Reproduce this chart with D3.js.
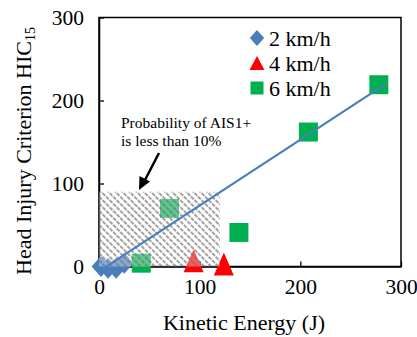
<!DOCTYPE html>
<html>
<head>
<meta charset="utf-8">
<script src="https://cdn.jsdelivr.net/npm/d3@7"></script>
<style>
  body { margin: 0; background: #fff; }
  svg text { font-family: "Liberation Serif", "Times New Roman", serif; fill: #000; }
</style>
</head>
<body>
<svg id="chart" width="417" height="337"></svg>
<script>
// series values (kinetic energy J, HIC15)
const energy2 = [2, 9, 17, 25];
const hic2 = [0, -2, -2, 4];
const energy4 = [94, 124];
const hic4 = [7, 3];
const energy6 = [42, 70, 139, 208, 278];
const hic6 = [4, 70, 41, 162, 219];
const seriesNames = ["2 km/h", "4 km/h", "6 km/h"];
const trendEnergy = [6, 286];
const trendHic = [-1, 221];
const zoneEnergy = [0, 120];
const zoneHic = [0, 90];
const xTicks = [0, 100, 200, 300];
const yTicks = [0, 100, 200, 300];

const blue = "#4a7ebb", red = "#ff0000", green = "#00b050";
const serif = "'Liberation Serif','Times New Roman',serif";

const svg = d3.select("#chart");
const x = d3.scaleLinear().domain([0, 300]).range([99, 401]);
const y = d3.scaleLinear().domain([0, 300]).range([266.5, 17.5]);

// hatch pattern (downward diagonal)
const defs = svg.append("defs");
const pat = defs.append("pattern")
    .attr("id", "hatch")
    .attr("patternUnits", "userSpaceOnUse")
    .attr("width", 5).attr("height", 5)
    .attr("patternTransform", "rotate(-45)");
pat.append("line")
    .attr("x1", 1).attr("y1", 0).attr("x2", 1).attr("y2", 5)
    .attr("stroke", "#707070")
    .attr("stroke-width", 1.3)
    .attr("stroke-dasharray", "3,1");

// plot frame
svg.append("rect")
    .attr("x", x(0)).attr("y", y(300))
    .attr("width", x(300) - x(0)).attr("height", y(0) - y(300))
    .attr("fill", "none").attr("stroke", "#000").attr("stroke-width", 1.5);

// axes with inward ticks
const gx = svg.append("g").attr("transform", "translate(0," + y(0) + ")")
    .call(d3.axisBottom(x).tickValues(xTicks).tickSizeInner(-5).tickSizeOuter(0).tickPadding(12));
const gy = svg.append("g").attr("transform", "translate(" + x(0) + ",0)")
    .call(d3.axisLeft(y).tickValues(yTicks).tickSizeInner(-5).tickSizeOuter(0).tickPadding(15));
[gx, gy].forEach(g => {
    g.attr("font-family", null).attr("font-size", null);
    g.select(".domain").attr("stroke", "#000").attr("stroke-width", 1.5);
    g.selectAll(".tick line").attr("stroke", "#000").attr("stroke-width", 1.3);
    g.selectAll(".tick text").style("font-family", serif)
        .style("font-size", "21.5px").attr("fill", "#000");
});

// markers
function diamond(s) { return "M0," + (-s) + " L" + (s * 0.9) + ",0 L0," + s + " L" + (-s * 0.9) + ",0Z"; }
function triangle(w, h) { return "M0," + (-h / 2) + " L" + (w / 2) + "," + (h / 2) + " L" + (-w / 2) + "," + (h / 2) + "Z"; }
function square(s) { return "M" + (-s / 2) + "," + (-s / 2) + "h" + s + "v" + s + "h" + (-s) + "Z"; }

svg.append("g").selectAll("path").data(d3.zip(energy2, hic2)).join("path")
    .attr("transform", d => "translate(" + x(d[0]) + "," + y(d[1]) + ")")
    .attr("d", diamond(10.5)).attr("fill", blue);
svg.append("g").selectAll("path").data(d3.zip(energy4, hic4)).join("path")
    .attr("transform", d => "translate(" + x(d[0]) + "," + y(d[1]) + ")")
    .attr("d", triangle(20, 23)).attr("fill", red);
svg.append("g").selectAll("path").data(d3.zip(energy6, hic6)).join("path")
    .attr("transform", d => "translate(" + x(d[0]) + "," + y(d[1]) + ")")
    .attr("d", square(19)).attr("fill", green);

// hatched zone
const zone = svg.append("g");
["#fff", "url(#hatch)"].forEach((f, i) => {
    zone.append("rect")
        .attr("x", x(zoneEnergy[0])).attr("y", y(zoneHic[1]))
        .attr("width", x(zoneEnergy[1]) - x(zoneEnergy[0]))
        .attr("height", y(zoneHic[0]) - y(zoneHic[1]))
        .attr("fill", f).attr("fill-opacity", i === 0 ? 0.35 : 1);
});

// trend line
svg.append("path")
    .datum(d3.zip(trendEnergy, trendHic))
    .attr("d", d3.line().x(d => x(d[0])).y(d => y(d[1])))
    .attr("stroke", blue).attr("stroke-width", 2.2).attr("fill", "none");

// annotation
svg.append("text").attr("x", 121).attr("y", 128).style("font-size", "15.5px").text("Probability of AIS1+");
svg.append("text").attr("x", 121).attr("y", 146).style("font-size", "15.5px").text("is less than 10%");
svg.append("line").attr("x1", 159).attr("y1", 153).attr("x2", 145).attr("y2", 180)
    .attr("stroke", "#000").attr("stroke-width", 2.5);
svg.append("path").attr("d", "M139,190 L139.5,176 L150,181.5Z").attr("fill", "#000");

// legend
const legend = svg.append("g");
const legY = [38, 63, 88];
const legShapes = [diamond(8), triangle(15, 14), square(13)];
const legColors = [blue, red, green];
seriesNames.forEach((name, i) => {
    legend.append("path").attr("transform", "translate(257," + legY[i] + ")")
        .attr("d", legShapes[i]).attr("fill", legColors[i]);
    legend.append("text").attr("x", 269).attr("y", legY[i] + 8)
        .style("font-size", "22px").text(name);
});

// axis titles
svg.append("text").attr("x", 244).attr("y", 330).attr("text-anchor", "middle")
    .style("font-size", "22px").text("Kinetic Energy (J)");
const yt = svg.append("text").attr("transform", "translate(31,151) rotate(-90)")
    .attr("text-anchor", "middle").style("font-size", "22px");
yt.append("tspan").text("Head Injury Criterion  HIC");
yt.append("tspan").attr("dy", 4).style("font-size", "14px").text("15");
</script>
</body>
</html>
